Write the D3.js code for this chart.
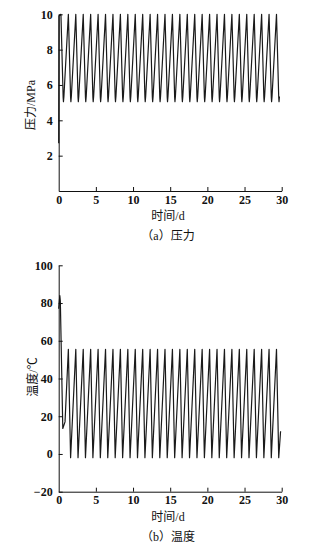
<!DOCTYPE html>
<meta charset="utf-8">
<style>
  body { margin: 0; background: white; }
  .tick text { font: bold 12px "Liberation Serif", serif; fill: #111; }
  .axis path, .axis line { stroke: #111; stroke-width: 1; fill: none; }
  .lbl { font: 12px "Liberation Serif", "Noto Sans CJK SC", serif; fill: #111; }
  .series { fill: none; stroke: #1a1a1a; stroke-width: 1.2; stroke-linejoin: round; }
</style>
<body>
<svg id="chart" width="329" height="549"></svg>
<script src="https://cdn.jsdelivr.net/npm/d3@7"></script>
<script>
// pressure, MPa (one cycle per day)
var pressureDay = [
  0, 0.03, 0.3, 0.6, 0.64, 0.7,
  1.3, 1.6, 1.64, 1.7,
  2.3, 2.6, 2.64, 2.7,
  3.3, 3.6, 3.64, 3.7,
  4.3, 4.6, 4.64, 4.7,
  5.3, 5.6, 5.64, 5.7,
  6.3, 6.6, 6.64, 6.7,
  7.3, 7.6, 7.64, 7.7,
  8.3, 8.6, 8.64, 8.7,
  9.3, 9.6, 9.64, 9.7,
  10.3, 10.6, 10.64, 10.7,
  11.3, 11.6, 11.64, 11.7,
  12.3, 12.6, 12.64, 12.7,
  13.3, 13.6, 13.64, 13.7,
  14.3, 14.6, 14.64, 14.7,
  15.3, 15.6, 15.64, 15.7,
  16.3, 16.6, 16.64, 16.7,
  17.3, 17.6, 17.64, 17.7,
  18.3, 18.6, 18.64, 18.7,
  19.3, 19.6, 19.64, 19.7,
  20.3, 20.6, 20.64, 20.7,
  21.3, 21.6, 21.64, 21.7,
  22.3, 22.6, 22.64, 22.7,
  23.3, 23.6, 23.64, 23.7,
  24.3, 24.6, 24.64, 24.7,
  25.3, 25.6, 25.64, 25.7,
  26.3, 26.6, 26.64, 26.7,
  27.3, 27.6, 27.64, 27.7,
  28.3, 28.6, 28.64, 28.7,
  29.3, 29.6, 29.64, 29.7
];
var pressureMPa = [
  2.7, 9.9, 10, 5.3, 5.05, 5.35,
  10, 5.3, 5.05, 5.35,
  10, 5.3, 5.05, 5.35,
  10, 5.3, 5.05, 5.35,
  10, 5.3, 5.05, 5.35,
  10, 5.3, 5.05, 5.35,
  10, 5.3, 5.05, 5.35,
  10, 5.3, 5.05, 5.35,
  10, 5.3, 5.05, 5.35,
  10, 5.3, 5.05, 5.35,
  10, 5.3, 5.05, 5.35,
  10, 5.3, 5.05, 5.35,
  10, 5.3, 5.05, 5.35,
  10, 5.3, 5.05, 5.35,
  10, 5.3, 5.05, 5.35,
  10, 5.3, 5.05, 5.35,
  10, 5.3, 5.05, 5.35,
  10, 5.3, 5.05, 5.35,
  10, 5.3, 5.05, 5.35,
  10, 5.3, 5.05, 5.35,
  10, 5.3, 5.05, 5.35,
  10, 5.3, 5.05, 5.35,
  10, 5.3, 5.05, 5.35,
  10, 5.3, 5.05, 5.35,
  10, 5.3, 5.05, 5.35,
  10, 5.3, 5.05, 5.35,
  10, 5.3, 5.05, 5.35,
  10, 5.3, 5.05, 5.35,
  10, 5.3, 5.05, 5.35,
  10, 5.3, 5.05, 5.35
];

// temperature, degC
var tempDay = [
  0, 0.15, 0.22, 0.55, 0.85,
  1.3, 1.6, 2.3, 2.6, 3.3, 3.6, 4.3, 4.6, 5.3, 5.6,
  6.3, 6.6, 7.3, 7.6, 8.3, 8.6, 9.3, 9.6, 10.3, 10.6,
  11.3, 11.6, 12.3, 12.6, 13.3, 13.6, 14.3, 14.6, 15.3, 15.6,
  16.3, 16.6, 17.3, 17.6, 18.3, 18.6, 19.3, 19.6, 20.3, 20.6,
  21.3, 21.6, 22.3, 22.6, 23.3, 23.6, 24.3, 24.6, 25.3, 25.6,
  26.3, 26.6, 27.3, 27.6, 28.3, 28.6, 29.3, 29.6,
  29.85
];
var tempC = [
  77, 84, 81, 13.5, 17,
  55.5, -2, 55.5, -2, 55.5, -2, 55.5, -2, 55.5, -2,
  55.5, -2, 55.5, -2, 55.5, -2, 55.5, -2, 55.5, -2,
  55.5, -2, 55.5, -2, 55.5, -2, 55.5, -2, 55.5, -2,
  55.5, -2, 55.5, -2, 55.5, -2, 55.5, -2, 55.5, -2,
  55.5, -2, 55.5, -2, 55.5, -2, 55.5, -2, 55.5, -2,
  55.5, -2, 55.5, -2, 55.5, -2, 55.5, -2,
  12
];

var dayTicks = [0, 5, 10, 15, 20, 25, 30];
var pressureTicks = [2, 4, 6, 8, 10];
var tempTicks = [-20, 0, 20, 40, 60, 80, 100];

var svg = d3.select("#chart");

var x = d3.scaleLinear().domain([0, 30]).range([58.7, 281.7]);

function panel(opts) {
  var y = d3.scaleLinear().domain(opts.domain).range(opts.range);
  var g = svg.append("g");

  var pts = opts.days.map(function (d, i) { return [d, opts.vals[i]]; });
  g.append("path")
    .attr("class", "series")
    .attr("d", d3.line().x(d => x(d[0])).y(d => y(d[1]))(pts));

  g.append("g")
    .attr("class", "axis")
    .attr("transform", "translate(0," + opts.range[0] + ")")
    .call(d3.axisBottom(x).tickValues(dayTicks).tickSize(-4).tickSizeOuter(0).tickPadding(4))
    .call(a => a.selectAll(".tick line").filter(d => d === 0).remove());

  g.append("g")
    .attr("class", "axis")
    .attr("transform", "translate(58.7,0)")
    .call(d3.axisLeft(y).tickValues(opts.ticks).tickSize(-4).tickSizeOuter(0).tickPadding(6)
      .tickFormat(d => d < 0 ? "\u2212" + Math.abs(d) : d));

  g.append("text").attr("class", "lbl")
    .attr("x", 168).attr("y", opts.range[0] + 29)
    .attr("text-anchor", "middle").text("时间/d");

  g.append("text").attr("class", "lbl")
    .attr("x", 168).attr("y", opts.range[0] + 49)
    .attr("text-anchor", "middle").text(opts.caption);

  g.append("text").attr("class", "lbl")
    .attr("transform", "translate(" + opts.labelX + "," + opts.labelY + ") rotate(-90)")
    .attr("text-anchor", "middle").attr("dy", "0.35em").text(opts.ylabel);
}

panel({
  days: pressureDay, vals: pressureMPa,
  domain: [0, 10], range: [191, 14.3], ticks: pressureTicks,
  ylabel: "压力/MPa", labelX: 31, labelY: 105, caption: "（a）压力"
});

panel({
  days: tempDay, vals: tempC,
  domain: [-20, 100], range: [491.7, 265.3], ticks: tempTicks,
  ylabel: "温度/℃", labelX: 33, labelY: 377, caption: "（b）温度"
});
</script>
</body>
